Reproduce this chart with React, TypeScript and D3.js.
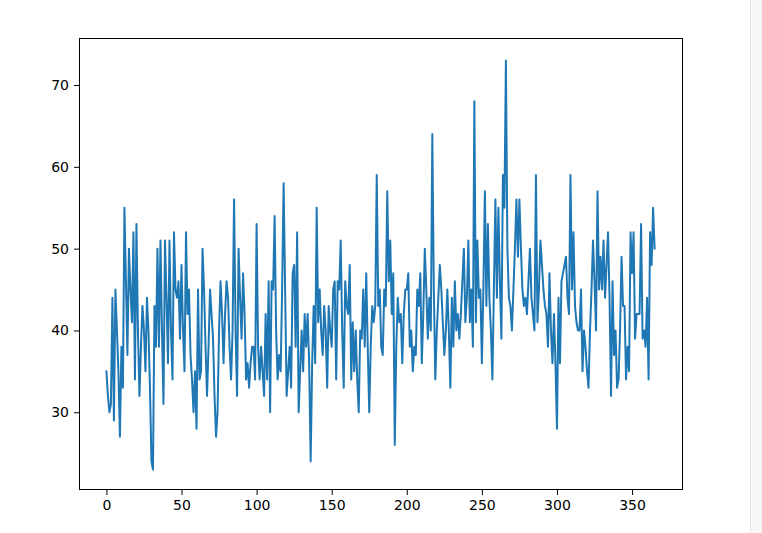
import React, { useEffect, useRef } from 'react';
import * as d3 from 'd3';

// daily values, split in blocks of about a month
const block1 = [35, 32, 30, 31, 44, 29, 45, 40, 35, 27, 38, 33, 55, 46, 37, 50, 45, 41, 52, 34, 53, 40, 32, 38, 43, 40, 35, 44, 40, 33, 24];
const block2 = [23, 43, 38, 50, 38, 51, 40, 31, 51, 44, 36, 51, 40, 34, 52, 45, 44, 46, 39, 48, 40, 35, 52, 42, 45, 37, 34, 30, 35, 28, 45];
const block3 = [34, 35, 50, 45, 38, 32, 38, 45, 42, 39, 32, 27, 30, 40, 46, 42, 36, 42, 46, 44, 38, 34, 40, 56, 40, 32, 50, 44, 39, 47];
const block4 = [42, 34, 36, 33, 36, 38, 38, 34, 53, 38, 34, 38, 35, 32, 42, 34, 46, 30, 46, 45, 54, 40, 34, 37, 35, 45, 58, 45, 32, 35, 38];
const block5 = [33, 47, 48, 38, 52, 30, 35, 40, 35, 42, 38, 42, 36, 24, 36, 43, 36, 55, 41, 45, 40, 37, 43, 40, 33, 43, 40, 38, 45, 46, 34];
const block6 = [46, 45, 51, 40, 33, 46, 43, 42, 48, 34, 41, 35, 40, 34, 30, 40, 39, 45, 38, 47, 38, 30, 38, 43, 41, 43, 59, 43, 45, 38, 37];
const block7 = [45, 43, 57, 46, 51, 42, 47, 26, 38, 44, 41, 42, 36, 42, 45, 45, 47, 38, 40, 35, 38, 37, 45, 43, 47, 36, 42, 50, 45, 39];
const block8 = [44, 40, 64, 45, 34, 40, 44, 48, 45, 41, 37, 40, 45, 40, 33, 44, 38, 46, 40, 42, 39, 42, 46, 50, 41, 44, 51, 41, 45, 38, 68];
const block9 = [41, 51, 44, 45, 36, 45, 57, 43, 53, 44, 40, 34, 45, 56, 44, 55, 46, 39, 59, 55, 73, 50, 44, 43, 40, 45, 50, 56, 49, 56, 50];
const block10 = [45, 43, 44, 42, 46, 50, 44, 42, 40, 59, 41, 45, 51, 48, 45, 43, 42, 38, 47, 40, 36, 42, 36, 28, 44, 36, 46, 47, 48, 49];
const block11 = [44, 42, 59, 45, 52, 43, 41, 40, 40, 45, 35, 40, 38, 35, 33, 40, 45, 51, 46, 40, 57, 45, 49, 45, 51, 44, 48, 52, 44, 32, 46];
const block12 = [37, 40, 33, 34, 40, 49, 43, 43, 34, 38, 35, 52, 47, 52, 39, 42, 42, 42, 53, 39, 40, 38, 44, 34, 52, 48, 55, 50];

const xTicks = [0, 50, 100, 150, 200, 250, 300, 350];
const yTicks = [30, 40, 50, 60, 70];

const App = () => {
    const ref = useRef(null);

    useEffect(() => {
        const width = 762;
        const height = 533;
        const margin = { top: 40, right: 80, bottom: 43, left: 79 };

        d3.select(ref.current).selectAll('*').remove();

        const values = [].concat(block1, block2, block3, block4, block5, block6,
            block7, block8, block9, block10, block11, block12);
        const data = values.map((v, i) => ({ x: i, y: v }));

        const svg = d3.select(ref.current)
            .append('svg')
            .attr('width', width)
            .attr('height', height)
            .style('position', 'absolute')
            .style('left', 0)
            .style('top', 0)
            .style('background', '#fff');

        // the faint page edge on the right of the picture
        svg.append('rect')
            .attr('x', 750).attr('y', 0)
            .attr('width', 12).attr('height', height)
            .attr('fill', '#f7f7f7');
        svg.append('line')
            .attr('x1', 750.5).attr('x2', 750.5)
            .attr('y1', 0).attr('y2', height)
            .attr('stroke', '#e2e2e2');

        // matplotlib style 5% margins
        const n = data.length - 1;
        const x = d3.scaleLinear()
            .domain([-n * 0.05, n * 1.05])
            .range([margin.left, width - margin.right]);
        const yMin = d3.min(values);
        const yMax = d3.max(values);
        const pad = (yMax - yMin) * 0.05;
        const y = d3.scaleLinear()
            .domain([yMin - pad, yMax + pad])
            .range([height - margin.bottom, margin.top]);

        const line = d3.line()
            .x(d => x(d.x))
            .y(d => y(d.y));

        svg.append('path')
            .datum(data)
            .attr('d', line)
            .attr('fill', 'none')
            .attr('stroke', '#1f77b4')
            .attr('stroke-width', 2)
            .attr('stroke-linejoin', 'round')
            .attr('stroke-linecap', 'square');

        const font = '"DejaVu Sans", sans-serif';

        const xAxis = svg.append('g')
            .attr('transform', `translate(0,${height - margin.bottom})`)
            .call(d3.axisBottom(x).tickValues(xTicks).tickSize(5).tickPadding(5));
        const yAxis = svg.append('g')
            .attr('transform', `translate(${margin.left},0)`)
            .call(d3.axisLeft(y).tickValues(yTicks).tickSize(5).tickPadding(5));

        [xAxis, yAxis].forEach(a => {
            a.select('.domain').remove();
            a.selectAll('line').attr('stroke', '#000').attr('stroke-width', 1);
            a.selectAll('text')
                .attr('fill', '#000')
                .style('font-family', font)
                .style('font-size', '14px');
        });

        // axes frame
        svg.append('rect')
            .attr('x', margin.left + 0.5)
            .attr('y', margin.top - 1.5)
            .attr('width', width - margin.right - margin.left)
            .attr('height', height - margin.bottom - margin.top + 1)
            .attr('fill', 'none')
            .attr('stroke', '#000')
            .attr('stroke-width', 1);
    }, []);

    return <div ref={ref}></div>;
};

export default App;
